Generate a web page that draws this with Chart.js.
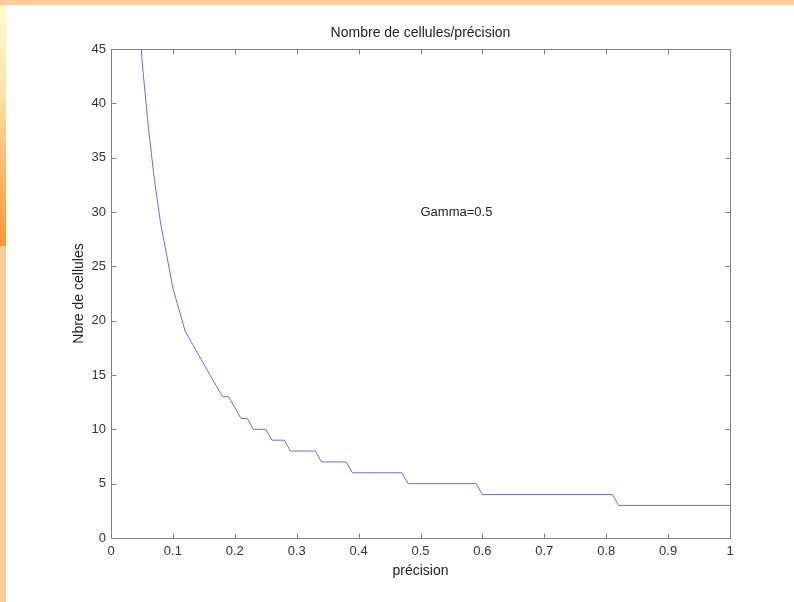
<!DOCTYPE html>
<html>
<head>
<meta charset="utf-8">
<script src="https://cdn.jsdelivr.net/npm/chart.js@4/dist/chart.umd.min.js"></script>
<style>
  html, body { margin: 0; padding: 0; background: #ffffff; }
  #wrap { position: relative; width: 794px; height: 602px; overflow: hidden; background: #ffffff; }
  #c { position: absolute; left: 0; top: 0; }
  .bar-top { position: absolute; left: 0; top: 0; width: 794px; height: 5px; background: #FFCC99; }
  .strip-grad { position: absolute; left: 0; top: 5px; width: 6px; height: 241px; background: linear-gradient(to bottom, #FFFBCC 0%, #FFE4A8 35%, #FFB56A 70%, #FF9933 100%); }
  .strip-low { position: absolute; left: 0; top: 246px; width: 6px; height: 356px; background: #FFCC99; }
</style>
</head>
<body>
<div id="wrap">
  <canvas id="c" width="794" height="602"></canvas>
  <div class="bar-top"></div>
  <div class="strip-grad"></div>
  <div class="strip-low"></div>
</div>
<script>
// Data (corner points of the curve)
const precision = [0.04,0.05,0.06,0.07,0.08,0.09,0.10,0.11,0.12,0.13,0.14,0.15,0.16,0.17,0.18,0.19,0.20,0.21,0.22,0.23,0.25,0.26,0.28,0.29,0.33,0.34,0.38,0.39,0.47,0.48,0.59,0.60,0.81,0.82,1.00];
const cells     = [56,44,38,33,29,26,23,21,19,18,17,16,15,14,13,13,12,11,11,10,10,9,9,8,8,7,7,6,6,5,5,4,4,3,3];
const titleText = 'Nombre de cellules/précision';
const xLabel = 'précision';
const yLabel = 'Nbre de cellules';
const annotationText = 'Gamma=0.5';
const annotationAt = [0.5, 30];
const xRange = [0, 1];
const yRange = [0, 45];
const xStep = 0.1;
const yStep = 5;

const FONT = "'Liberation Sans', Arial, Helvetica, sans-serif";
const FRAME = '#808080';

const framePlugin = {
  id: 'matlabFrame',
  afterDraw(chart) {
    const ctx = chart.ctx;
    const {left, right, top, bottom} = chart.chartArea;
    const xs = chart.scales.x, ys = chart.scales.y;
    ctx.save();
    ctx.strokeStyle = FRAME;
    ctx.lineWidth = 1;
    const L = Math.round(left) + 0.5, R = Math.round(right) + 0.5;
    const T = Math.round(top) + 0.5, B = Math.round(bottom) + 0.5;
    ctx.beginPath();
    ctx.rect(L, T, R - L, B - T);
    const tl = 5;
    xs.ticks.forEach(t => {
      const p = Math.round(xs.getPixelForValue(t.value)) + 0.5;
      ctx.moveTo(p, B); ctx.lineTo(p, B - tl);
      ctx.moveTo(p, T); ctx.lineTo(p, T + tl);
    });
    ys.ticks.forEach(t => {
      const p = Math.round(ys.getPixelForValue(t.value)) + 0.5;
      ctx.moveTo(L, p); ctx.lineTo(L + tl, p);
      ctx.moveTo(R, p); ctx.lineTo(R - tl, p);
    });
    ctx.stroke();
    // title centred over the axes box
    ctx.fillStyle = '#222222';
    ctx.textBaseline = 'middle';
    ctx.textAlign = 'center';
    ctx.font = '14px ' + FONT;
    ctx.fillText(titleText, (left + right) / 2, 33);
    // annotation
    ctx.font = '13px ' + FONT;
    ctx.textAlign = 'left';
    ctx.fillText(annotationText, xs.getPixelForValue(annotationAt[0]), ys.getPixelForValue(annotationAt[1]));
    ctx.restore();
  }
};

new Chart(document.getElementById('c'), {
  type: 'line',
  data: {
    datasets: [{
      data: precision.map((p, i) => ({x: p, y: cells[i]})),
      borderColor: '#6e6edc',
      borderWidth: 1,
      pointRadius: 0,
      tension: 0,
      fill: false
    }]
  },
  options: {
    responsive: false,
    animation: false,
    events: [],
    layout: { padding: { left: 0, right: 64, top: 49, bottom: 0 } },
    plugins: {
      legend: { display: false },
      tooltip: { enabled: false },
      title: { display: false }
    },
    scales: {
      x: {
        type: 'linear',
        min: xRange[0], max: xRange[1],
        afterFit(s) { s.height = 64; },
        grid: { display: false, drawTicks: false },
        border: { display: false },
        ticks: {
          stepSize: xStep, padding: 6, color: '#333333', font: { family: FONT, size: 13 }, maxRotation: 0,
          callback: v => String(Math.round(v * 10) / 10)
        },
        title: { display: true, text: xLabel, color: '#222222', font: { family: FONT, size: 14 }, padding: { top: 0, bottom: 22 } }
      },
      y: {
        type: 'linear',
        min: yRange[0], max: yRange[1],
        afterFit(s) { s.width = 111; },
        grid: { display: false, drawTicks: false },
        border: { display: false },
        ticks: { stepSize: yStep, padding: 5, color: '#333333', font: { family: FONT, size: 13 } },
        title: { display: true, text: yLabel, color: '#222222', font: { family: FONT, size: 14 }, padding: { top: 71, bottom: 0 } }
      }
    }
  },
  plugins: [framePlugin]
});
</script>
</body>
</html>
